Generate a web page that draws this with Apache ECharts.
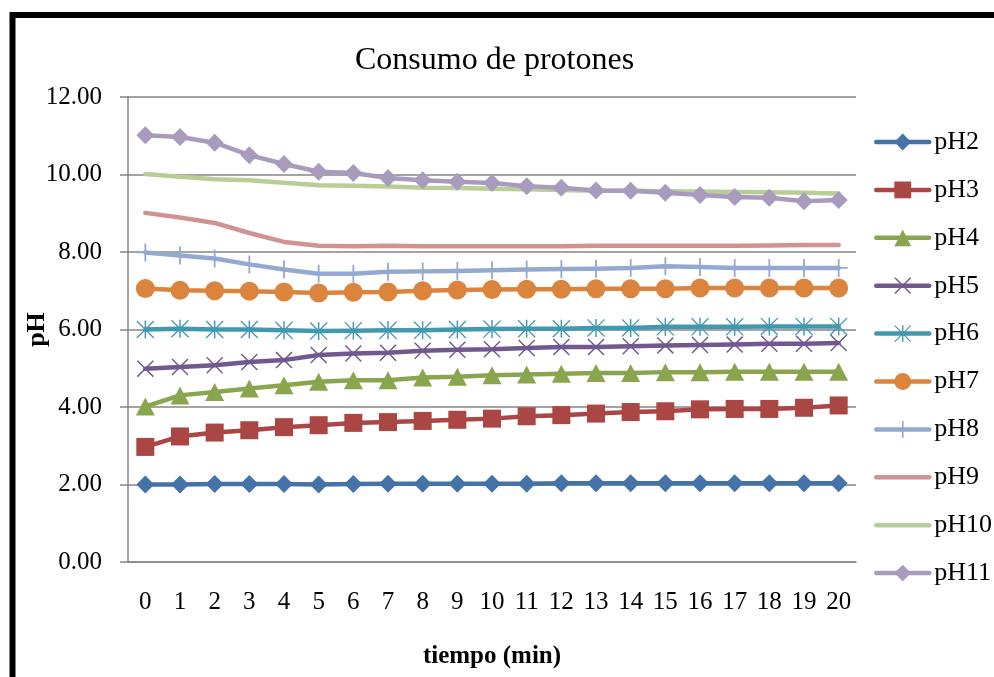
<!DOCTYPE html>
<html>
<head>
<meta charset="utf-8">
<script src="https://cdn.jsdelivr.net/npm/echarts@6/dist/echarts.min.js"></script>
<style>
  html, body { margin: 0; padding: 0; background: #fff; }
  #chart { width: 994px; height: 677px; }
</style>
</head>
<body>
<div id="chart"></div>
<script>
// Time points (minutes)
const tiempo = ['0','1','2','3','4','5','6','7','8','9','10','11','12','13','14','15','16','17','18','19','20'];

// Measured pH for each starting pH
const pH2  = [2.00,2.00,2.01,2.01,2.01,2.00,2.01,2.02,2.02,2.02,2.02,2.02,2.03,2.03,2.03,2.03,2.03,2.03,2.03,2.03,2.03];
const pH3  = [2.97,3.24,3.34,3.40,3.48,3.53,3.59,3.61,3.64,3.67,3.70,3.76,3.79,3.83,3.87,3.89,3.94,3.95,3.95,3.98,4.04];
const pH4  = [4.01,4.30,4.39,4.48,4.56,4.65,4.69,4.69,4.76,4.78,4.82,4.84,4.86,4.88,4.88,4.90,4.90,4.91,4.91,4.91,4.91];
const pH5  = [4.99,5.03,5.08,5.16,5.21,5.34,5.38,5.40,5.45,5.48,5.49,5.52,5.55,5.55,5.57,5.59,5.60,5.61,5.63,5.63,5.65];
const pH6  = [6.00,6.02,6.00,6.00,5.98,5.96,5.97,5.98,5.98,6.00,6.01,6.02,6.02,6.04,6.04,6.07,6.07,6.07,6.08,6.08,6.08];
const pH7  = [7.06,7.01,7.00,6.99,6.97,6.94,6.96,6.97,7.00,7.02,7.03,7.04,7.04,7.05,7.05,7.05,7.07,7.07,7.07,7.07,7.07];
const pH8  = [7.99,7.91,7.83,7.68,7.55,7.44,7.44,7.49,7.50,7.51,7.53,7.55,7.56,7.57,7.59,7.63,7.61,7.59,7.59,7.59,7.59];
const pH9  = [9.01,8.89,8.75,8.49,8.26,8.16,8.15,8.16,8.15,8.15,8.15,8.15,8.15,8.16,8.16,8.16,8.16,8.16,8.17,8.18,8.18];
const pH10 = [10.01,9.94,9.88,9.85,9.79,9.72,9.71,9.69,9.66,9.65,9.63,9.62,9.60,9.58,9.58,9.57,9.56,9.55,9.54,9.53,9.51];
const pH11 = [11.01,10.97,10.82,10.50,10.27,10.07,10.04,9.91,9.85,9.81,9.78,9.70,9.66,9.59,9.58,9.53,9.47,9.42,9.40,9.31,9.34];

const serieNames = ['pH2','pH3','pH4','pH5','pH6','pH7','pH8','pH9','pH10','pH11'];
const serieData  = [pH2, pH3, pH4, pH5, pH6, pH7, pH8, pH9, pH10, pH11];

const FONT = '"Liberation Serif", "Times New Roman", serif';

// Line-style marker shapes drawn as thin filled outlines
const SYM_X = 'path://M0,6 L6,0 L100,94 L94,100 Z M94,0 L100,6 L6,100 L0,94 Z';
const SYM_AST = 'path://M0,5 L5,0 L100,95 L95,100 Z M95,0 L100,5 L5,100 L0,95 Z M46,0 L54,0 L54,100 L46,100 Z';
const SYM_PLUS = 'path://M45,0 L55,0 L55,45 L100,45 L100,55 L55,55 L55,100 L45,100 L45,55 L0,55 L0,45 L45,45 Z';

const styles = [
  { color: '#4572A7', symbol: 'diamond',  size: 18 },
  { color: '#AA4643', symbol: 'rect',     size: 18 },
  { color: '#89A54E', symbol: 'triangle', size: [19, 18] },
  { color: '#71588F', symbol: SYM_X,      size: 17 },
  { color: '#4198AF', symbol: SYM_AST,    size: 18 },
  { color: '#DB843D', symbol: 'circle',   size: 19 },
  { color: '#93A9CF', symbol: SYM_PLUS,   size: 18 },
  { color: '#D19392', symbol: 'none',     size: 0 },
  { color: '#B9CD96', symbol: 'none',     size: 0 },
  { color: '#A99BBD', symbol: 'diamond',  size: 18 }
];

const series = serieNames.map((name, i) => ({
  name: name,
  type: 'line',
  data: serieData[i],
  symbol: styles[i].symbol,
  symbolSize: styles[i].size,
  showSymbol: styles[i].symbol !== 'none',
  itemStyle: { color: styles[i].color },
  lineStyle: { color: styles[i].color, width: 4.5, cap: 'round', join: 'round' },
  emphasis: { disabled: true }
}));

const legendData = serieNames.map((name, i) => {
  const item = { name: name };
  if (styles[i].symbol === 'none') {
    item.itemStyle = { color: 'rgba(0,0,0,0)', borderWidth: 0 };
  }
  return item;
});

const chart = echarts.init(document.getElementById('chart'), null, { renderer: 'canvas' });
chart.setOption({
  animation: false,
  backgroundColor: '#ffffff',
  title: {
    text: 'Consumo de protones',
    left: 355,
    top: 45,
    padding: 0,
    textStyle: { fontFamily: FONT, fontSize: 32, fontWeight: 'normal', color: '#000' }
  },
  legend: {
    orient: 'vertical',
    left: 874,
    top: 129,
    padding: 0,
    itemWidth: 53,
    itemHeight: 21,
    itemGap: 21.9,
    selectedMode: false,
    lineStyle: { width: 4.5, cap: 'round' },
    itemStyle: { borderWidth: 0 },
    textStyle: { fontFamily: FONT, fontSize: 26, lineHeight: 26, color: '#000' },
    data: legendData
  },
  grid: { left: 128, right: 138, top: 97, bottom: 115 },
  xAxis: {
    type: 'category',
    data: tiempo,
    boundaryGap: true,
    name: 'tiempo (min)',
    nameLocation: 'middle',
    nameGap: 82,
    nameMoveOverlap: false,
    nameTextStyle: { fontFamily: FONT, fontSize: 25, fontWeight: 'bold', color: '#000' },
    axisLine: { lineStyle: { color: '#868686', width: 1.5 } },
    axisTick: { show: false },
    axisLabel: { fontFamily: FONT, fontSize: 25, color: '#000', margin: 28, interval: 0 }
  },
  yAxis: {
    type: 'value',
    min: 0,
    max: 12,
    interval: 2,
    name: 'pH',
    nameLocation: 'middle',
    nameGap: 78,
    nameMoveOverlap: false,
    nameRotate: 90,
    nameTextStyle: { fontFamily: FONT, fontSize: 26, fontWeight: 'bold', color: '#000' },
    axisLine: { show: true, lineStyle: { color: '#868686', width: 1.5 } },
    axisTick: { show: true, inside: false, length: 8, lineStyle: { color: '#868686', width: 1.5 } },
    splitLine: { show: true, lineStyle: { color: '#868686', width: 1.5 } },
    axisLabel: {
      fontFamily: FONT, fontSize: 25, color: '#000', margin: 26,
      formatter: v => v.toFixed(2)
    }
  },
  graphic: [
    {
      type: 'rect',
      silent: true,
      shape: { x: 12.5, y: 15, width: 2000, height: 2000 },
      style: { fill: 'none', stroke: '#000', lineWidth: 6 }
    }
  ],
  series: series
});
</script>
</body>
</html>
